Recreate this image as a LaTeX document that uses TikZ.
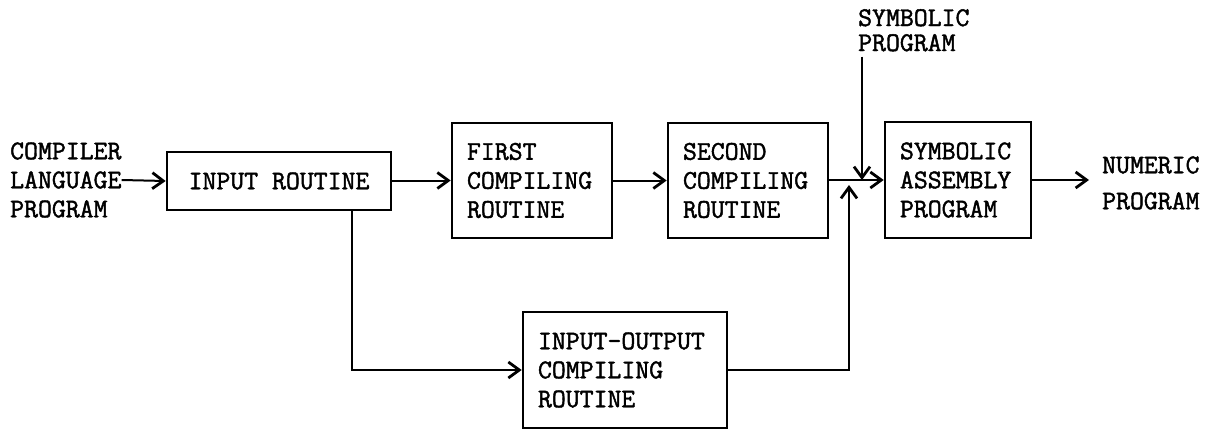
\documentclass[tikz,border=0pt]{standalone}
\usepackage{fontspec}
\setmonofont[FakeBold=1.6]{Latin Modern Mono}
\usetikzlibrary{arrows.meta}

\newcommand\twfont{\fontsize{27}{29}\selectfont\ttfamily}

\tikzset{
  block/.style={draw, line width=2.6pt, inner sep=0pt, font=\twfont},
  tbox/.style={block, align=left},
  lbl/.style={inner sep=0pt, font=\twfont, align=left},
  flow/.style={line width=2pt, -{Straight Barb[length=11pt,width=16pt,line width=2.8pt]}},
  wire/.style={line width=2pt}
}

\begin{document}
\begin{tikzpicture}[x=1pt,y=-1pt]
  \useasboundingbox (0,0) rectangle (1218,431);

  % processing blocks
  \node[block, minimum width=224pt, minimum height=58pt] (inr) at (279,181) {INPUT ROUTINE};
  \node[tbox, minimum width=160pt, minimum height=115pt, text width=130pt] (first) at (532,180.5)
    {FIRST\\COMPILING\\ROUTINE};
  \node[tbox, minimum width=160pt, minimum height=115pt, text width=130pt] (second) at (748,180.5)
    {SECOND\\COMPILING\\ROUTINE};
  \node[tbox, minimum width=146pt, minimum height=116pt, text width=116pt] (sym) at (958,180)
    {SYMBOLIC\\ASSEMBLY\\PROGRAM};
  \node[tbox, minimum width=204pt, minimum height=116pt, text width=174pt] (io) at (625,370)
    {INPUT-OUTPUT\\COMPILING\\ROUTINE};

  % free-standing labels
  \node[lbl, anchor=west] (cl) at (10,180) {COMPILER\\LANGUAGE\\PROGRAM};
  \node[lbl, anchor=north west, font={\fontsize{27}{25}\selectfont\ttfamily}] (sp) at (858,9)
    {SYMBOLIC\\PROGRAM};
  \node[lbl, anchor=west, font={\fontsize{27}{36}\selectfont\ttfamily}] (np) at (1102,183)
    {NUMERIC\\PROGRAM};

  % junction points on the main line
  \coordinate (jdown) at (862,180);
  \coordinate (jup) at (849,185);
  \coordinate (tap) at (352,0);

  % main flow
  \draw[flow] (cl.east) -- (inr.west);
  \draw[flow] (inr.east |- first.west) -- (first.west);
  \draw[flow] (first.east) -- (second.west);
  \draw[flow] (second.east |- sym.west) -- (sym.west);
  \draw[flow, shorten >=13pt] (sym.east) -- (np.west |- sym.east);

  % symbolic program enters from above
  \draw[flow] (sp.south -| jdown) ++(0,5) -- (jdown);

  % input-output branch
  \draw[flow] (inr.south -| tap) |- (io.west);
  \draw[flow] (io.east) -| (jup);
\end{tikzpicture}
\end{document}
